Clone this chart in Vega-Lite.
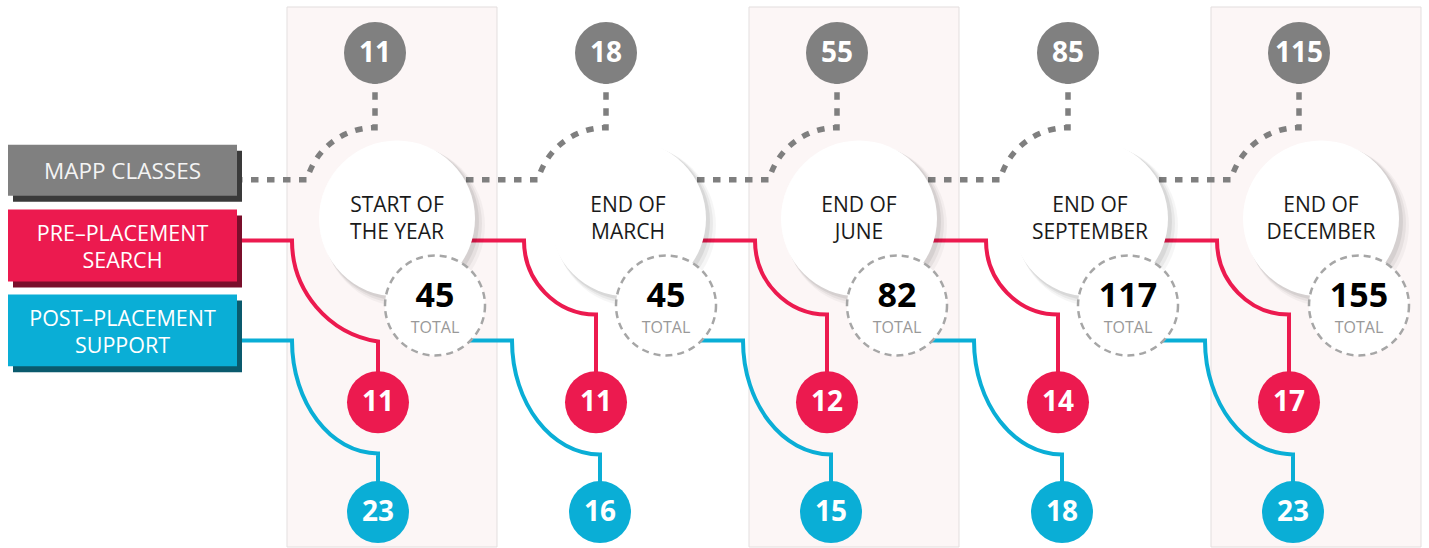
{
  "$schema": "https://vega.github.io/schema/vega-lite/v6.json",
  "width": 1429,
  "height": 548,
  "autosize": {"type": "fit", "contains": "padding"},
  "padding": 0,
  "background": "white",
  "config": {"view": {"stroke": null}, "font": "Open Sans", "text": {"font": "Open Sans"}},
  "datasets": {
    "periods": [
      {"quarter": 0, "period": "START OF\nTHE YEAR", "mapp": 11, "pre": 11, "post": 23, "total": 45},
      {"quarter": 1, "period": "END OF\nMARCH", "mapp": 18, "pre": 11, "post": 16, "total": 45},
      {"quarter": 2, "period": "END OF\nJUNE", "mapp": 55, "pre": 12, "post": 15, "total": 82},
      {"quarter": 3, "period": "END OF\nSEPTEMBER", "mapp": 85, "pre": 14, "post": 18, "total": 117},
      {"quarter": 4, "period": "END OF\nDECEMBER", "mapp": 115, "pre": 17, "post": 23, "total": 155}
    ],
    "series": [
      {"key": "mapp", "series": "MAPP CLASSES"},
      {"key": "pre", "series": "PRE–PLACEMENT\nSEARCH"},
      {"key": "post", "series": "POST–PLACEMENT\nSUPPORT"}
    ]
  },
  "layer": [
    {
      "data": {"name": "periods"},
      "encoding": {
        "x": {"field": "quarter", "type": "quantitative", "scale": {"domain": [-1.623377, 4.562771], "nice": false, "zero": false}, "axis": null}
      },
      "layer": [
        {
          "transform": [{"filter": "datum.quarter % 2 == 0"}],
          "mark": {"type": "rect", "xOffset": -88, "x2Offset": 122, "fill": "#fcf6f6", "stroke": "#e3dfdf", "strokeWidth": 1},
          "encoding": {
            "x2": {"field": "quarter"},
            "y": {"datum": 7, "type": "quantitative", "scale": {"domain": [0, 548], "reverse": true, "nice": false, "zero": false}, "axis": null},
            "y2": {"datum": 548}
          }
        },
        {
          "mark": {"type": "point", "shape": "M -140 0 L -68 0 A 70 70 0 0 1 0 -52 L 0 -127", "size": 4, "filled": false, "stroke": "#7f7f7f", "strokeWidth": 5.5, "strokeDash": [7.5, 8.5], "opacity": 1},
          "encoding": {"y": {"datum": 180, "type": "quantitative", "scale": {"domain": [0, 548], "reverse": true, "nice": false, "zero": false}, "axis": null}}
        },
        {
          "transform": [{"filter": "datum.quarter == 0"}],
          "mark": {"type": "point", "shape": "M -150 0 L -86 0 A 102 102 0 0 0 0 101 L 0 162", "size": 4, "filled": false, "stroke": "#ec1a4f", "strokeWidth": 4, "opacity": 1, "xOffset": 3},
          "encoding": {"y": {"datum": 241, "type": "quantitative", "scale": {"domain": [0, 548], "reverse": true, "nice": false, "zero": false}, "axis": null}}
        },
        {
          "transform": [{"filter": "datum.quarter > 0"}],
          "mark": {"type": "point", "shape": "M -140 0 L -72 0 A 72 74 0 0 0 0 74 L 0 162", "size": 4, "filled": false, "stroke": "#ec1a4f", "strokeWidth": 4, "opacity": 1, "xOffset": -10},
          "encoding": {"y": {"datum": 241, "type": "quantitative", "scale": {"domain": [0, 548], "reverse": true, "nice": false, "zero": false}, "axis": null}}
        },
        {
          "transform": [{"filter": "datum.quarter == 0"}],
          "mark": {"type": "point", "shape": "M -150 0 L -86 0 A 86 113 0 0 0 0 113 L 0 172", "size": 4, "filled": false, "stroke": "#0aaed6", "strokeWidth": 4, "opacity": 1, "xOffset": 3},
          "encoding": {"y": {"datum": 341, "type": "quantitative", "scale": {"domain": [0, 548], "reverse": true, "nice": false, "zero": false}, "axis": null}}
        },
        {
          "transform": [{"filter": "datum.quarter > 0"}],
          "mark": {"type": "point", "shape": "M -150 0 L -88 0 A 88 114 0 0 0 0 114 L 0 172", "size": 4, "filled": false, "stroke": "#0aaed6", "strokeWidth": 4, "opacity": 1, "xOffset": -6},
          "encoding": {"y": {"datum": 341, "type": "quantitative", "scale": {"domain": [0, 548], "reverse": true, "nice": false, "zero": false}, "axis": null}}
        },
        {
          "mark": {"type": "circle", "size": 26244, "fill": "#000000", "opacity": 0.035, "xOffset": 29},
          "encoding": {"y": {"datum": 226, "type": "quantitative", "scale": {"domain": [0, 548], "reverse": true, "nice": false, "zero": false}, "axis": null}}
        },
        {
          "mark": {"type": "circle", "size": 25600, "fill": "#000000", "opacity": 0.05, "xOffset": 27},
          "encoding": {"y": {"datum": 224, "type": "quantitative", "scale": {"domain": [0, 548], "reverse": true, "nice": false, "zero": false}, "axis": null}}
        },
        {
          "mark": {"type": "circle", "size": 24964, "fill": "#000000", "opacity": 0.07, "xOffset": 25},
          "encoding": {"y": {"datum": 222, "type": "quantitative", "scale": {"domain": [0, 548], "reverse": true, "nice": false, "zero": false}, "axis": null}}
        },
        {
          "mark": {"type": "circle", "size": 24336, "fill": "#ffffff", "opacity": 1, "xOffset": 22},
          "encoding": {"y": {"datum": 219, "type": "quantitative", "scale": {"domain": [0, 548], "reverse": true, "nice": false, "zero": false}, "axis": null}}
        },
        {
          "mark": {"type": "text", "lineBreak": "\n", "fontSize": 21, "lineHeight": 27.5, "dx": 22, "align": "center", "baseline": "middle", "fill": "#1a1a1a"},
          "encoding": {
            "y": {"datum": 206, "type": "quantitative", "scale": {"domain": [0, 548], "reverse": true, "nice": false, "zero": false}, "axis": null},
            "text": {"field": "period"}
          }
        },
        {
          "mark": {"type": "circle", "size": 10000, "fill": "#ffffff", "stroke": "#a6a6a6", "strokeWidth": 2.5, "strokeDash": [7, 5], "opacity": 1, "xOffset": 60},
          "encoding": {"y": {"datum": 306, "type": "quantitative", "scale": {"domain": [0, 548], "reverse": true, "nice": false, "zero": false}, "axis": null}}
        },
        {
          "mark": {"type": "text", "fontSize": 34, "fontWeight": "bold", "dx": 60, "align": "center", "baseline": "middle", "fill": "#000000"},
          "encoding": {
            "y": {"datum": 298, "type": "quantitative", "scale": {"domain": [0, 548], "reverse": true, "nice": false, "zero": false}, "axis": null},
            "text": {"field": "total"}
          }
        },
        {
          "mark": {"type": "text", "fontSize": 16, "dx": 60, "align": "center", "baseline": "middle", "fill": "#999999"},
          "encoding": {
            "y": {"datum": 329, "type": "quantitative", "scale": {"domain": [0, 548], "reverse": true, "nice": false, "zero": false}, "axis": null},
            "text": {"value": "TOTAL"}
          }
        },
        {
          "mark": {"type": "circle", "size": 3844, "fill": "#808080", "opacity": 1},
          "encoding": {"y": {"datum": 53, "type": "quantitative", "scale": {"domain": [0, 548], "reverse": true, "nice": false, "zero": false}, "axis": null}}
        },
        {
          "mark": {"type": "text", "fontSize": 28, "fontWeight": "bold", "align": "center", "baseline": "middle", "fill": "#ffffff"},
          "encoding": {
            "y": {"datum": 54, "type": "quantitative", "scale": {"domain": [0, 548], "reverse": true, "nice": false, "zero": false}, "axis": null},
            "text": {"field": "mapp"}
          }
        },
        {
          "transform": [{"filter": "datum.quarter == 0"}],
          "mark": {"type": "circle", "size": 3844, "fill": "#ec1a4f", "opacity": 1, "xOffset": 3},
          "encoding": {"y": {"datum": 403, "type": "quantitative", "scale": {"domain": [0, 548], "reverse": true, "nice": false, "zero": false}, "axis": null}}
        },
        {
          "transform": [{"filter": "datum.quarter > 0"}],
          "mark": {"type": "circle", "size": 3844, "fill": "#ec1a4f", "opacity": 1, "xOffset": -10},
          "encoding": {"y": {"datum": 403, "type": "quantitative", "scale": {"domain": [0, 548], "reverse": true, "nice": false, "zero": false}, "axis": null}}
        },
        {
          "transform": [{"filter": "datum.quarter == 0"}],
          "mark": {"type": "text", "fontSize": 28, "fontWeight": "bold", "align": "center", "baseline": "middle", "fill": "#ffffff", "dx": 3},
          "encoding": {
            "y": {"datum": 404, "type": "quantitative", "scale": {"domain": [0, 548], "reverse": true, "nice": false, "zero": false}, "axis": null},
            "text": {"field": "pre"}
          }
        },
        {
          "transform": [{"filter": "datum.quarter > 0"}],
          "mark": {"type": "text", "fontSize": 28, "fontWeight": "bold", "align": "center", "baseline": "middle", "fill": "#ffffff", "dx": -10},
          "encoding": {
            "y": {"datum": 404, "type": "quantitative", "scale": {"domain": [0, 548], "reverse": true, "nice": false, "zero": false}, "axis": null},
            "text": {"field": "pre"}
          }
        },
        {
          "transform": [{"filter": "datum.quarter == 0"}],
          "mark": {"type": "circle", "size": 3844, "fill": "#0aaed6", "opacity": 1, "xOffset": 3},
          "encoding": {"y": {"datum": 513, "type": "quantitative", "scale": {"domain": [0, 548], "reverse": true, "nice": false, "zero": false}, "axis": null}}
        },
        {
          "transform": [{"filter": "datum.quarter > 0"}],
          "mark": {"type": "circle", "size": 3844, "fill": "#0aaed6", "opacity": 1, "xOffset": -6},
          "encoding": {"y": {"datum": 513, "type": "quantitative", "scale": {"domain": [0, 548], "reverse": true, "nice": false, "zero": false}, "axis": null}}
        },
        {
          "transform": [{"filter": "datum.quarter == 0"}],
          "mark": {"type": "text", "fontSize": 28, "fontWeight": "bold", "align": "center", "baseline": "middle", "fill": "#ffffff", "dx": 3},
          "encoding": {
            "y": {"datum": 514, "type": "quantitative", "scale": {"domain": [0, 548], "reverse": true, "nice": false, "zero": false}, "axis": null},
            "text": {"field": "post"}
          }
        },
        {
          "transform": [{"filter": "datum.quarter > 0"}],
          "mark": {"type": "text", "fontSize": 28, "fontWeight": "bold", "align": "center", "baseline": "middle", "fill": "#ffffff", "dx": -6},
          "encoding": {
            "y": {"datum": 514, "type": "quantitative", "scale": {"domain": [0, 548], "reverse": true, "nice": false, "zero": false}, "axis": null},
            "text": {"field": "post"}
          }
        }
      ]
    },
    {
      "data": {"name": "series"},
      "transform": [{"filter": "datum.key == 'mapp'"}],
      "mark": {"type": "rect", "xOffset": 5, "x2Offset": 5, "yOffset": 6, "y2Offset": 6, "fill": "#3a3a3a"},
      "encoding": {
        "x": {"datum": -1.58874, "type": "quantitative", "scale": {"domain": [-1.623377, 4.562771], "nice": false, "zero": false}, "axis": null},
        "x2": {"datum": -0.5974},
        "y": {"datum": 145, "type": "quantitative", "scale": {"domain": [0, 548], "reverse": true, "nice": false, "zero": false}, "axis": null},
        "y2": {"datum": 196}
      }
    },
    {
      "data": {"name": "series"},
      "transform": [{"filter": "datum.key == 'pre'"}],
      "mark": {"type": "rect", "xOffset": 5, "x2Offset": 5, "yOffset": 6, "y2Offset": 6, "fill": "#7a0e2b"},
      "encoding": {
        "x": {"datum": -1.58874, "type": "quantitative", "scale": {"domain": [-1.623377, 4.562771], "nice": false, "zero": false}, "axis": null},
        "x2": {"datum": -0.5974},
        "y": {"datum": 210, "type": "quantitative", "scale": {"domain": [0, 548], "reverse": true, "nice": false, "zero": false}, "axis": null},
        "y2": {"datum": 282}
      }
    },
    {
      "data": {"name": "series"},
      "transform": [{"filter": "datum.key == 'post'"}],
      "mark": {"type": "rect", "xOffset": 5, "x2Offset": 5, "yOffset": 6, "y2Offset": 6, "fill": "#0a5a6d"},
      "encoding": {
        "x": {"datum": -1.58874, "type": "quantitative", "scale": {"domain": [-1.623377, 4.562771], "nice": false, "zero": false}, "axis": null},
        "x2": {"datum": -0.5974},
        "y": {"datum": 295, "type": "quantitative", "scale": {"domain": [0, 548], "reverse": true, "nice": false, "zero": false}, "axis": null},
        "y2": {"datum": 367}
      }
    },
    {
      "data": {"name": "series"},
      "transform": [{"filter": "datum.key == 'mapp'"}],
      "mark": {"type": "rect", "fill": "#808080"},
      "encoding": {
        "x": {"datum": -1.58874, "type": "quantitative", "scale": {"domain": [-1.623377, 4.562771], "nice": false, "zero": false}, "axis": null},
        "x2": {"datum": -0.5974},
        "y": {"datum": 145, "type": "quantitative", "scale": {"domain": [0, 548], "reverse": true, "nice": false, "zero": false}, "axis": null},
        "y2": {"datum": 196}
      }
    },
    {
      "data": {"name": "series"},
      "transform": [{"filter": "datum.key == 'pre'"}],
      "mark": {"type": "rect", "fill": "#ec1a4f"},
      "encoding": {
        "x": {"datum": -1.58874, "type": "quantitative", "scale": {"domain": [-1.623377, 4.562771], "nice": false, "zero": false}, "axis": null},
        "x2": {"datum": -0.5974},
        "y": {"datum": 210, "type": "quantitative", "scale": {"domain": [0, 548], "reverse": true, "nice": false, "zero": false}, "axis": null},
        "y2": {"datum": 282}
      }
    },
    {
      "data": {"name": "series"},
      "transform": [{"filter": "datum.key == 'post'"}],
      "mark": {"type": "rect", "fill": "#0aaed6"},
      "encoding": {
        "x": {"datum": -1.58874, "type": "quantitative", "scale": {"domain": [-1.623377, 4.562771], "nice": false, "zero": false}, "axis": null},
        "x2": {"datum": -0.5974},
        "y": {"datum": 295, "type": "quantitative", "scale": {"domain": [0, 548], "reverse": true, "nice": false, "zero": false}, "axis": null},
        "y2": {"datum": 367}
      }
    },
    {
      "data": {"name": "series"},
      "transform": [{"filter": "datum.key == 'mapp'"}],
      "mark": {"type": "text", "fontSize": 22.5, "align": "center", "baseline": "middle", "fill": "#f4f4f4"},
      "encoding": {
        "x": {"datum": -1.09307, "type": "quantitative", "scale": {"domain": [-1.623377, 4.562771], "nice": false, "zero": false}, "axis": null},
        "y": {"datum": 172, "type": "quantitative", "scale": {"domain": [0, 548], "reverse": true, "nice": false, "zero": false}, "axis": null},
        "text": {"field": "series"}
      }
    },
    {
      "data": {"name": "series"},
      "transform": [{"filter": "datum.key == 'pre'"}],
      "mark": {"type": "text", "fontSize": 21.5, "lineBreak": "\n", "lineHeight": 27, "align": "center", "baseline": "middle", "fill": "#ffffff"},
      "encoding": {
        "x": {"datum": -1.09307, "type": "quantitative", "scale": {"domain": [-1.623377, 4.562771], "nice": false, "zero": false}, "axis": null},
        "y": {"datum": 235, "type": "quantitative", "scale": {"domain": [0, 548], "reverse": true, "nice": false, "zero": false}, "axis": null},
        "text": {"field": "series"}
      }
    },
    {
      "data": {"name": "series"},
      "transform": [{"filter": "datum.key == 'post'"}],
      "mark": {"type": "text", "fontSize": 21.5, "lineBreak": "\n", "lineHeight": 27, "align": "center", "baseline": "middle", "fill": "#ffffff"},
      "encoding": {
        "x": {"datum": -1.09307, "type": "quantitative", "scale": {"domain": [-1.623377, 4.562771], "nice": false, "zero": false}, "axis": null},
        "y": {"datum": 321, "type": "quantitative", "scale": {"domain": [0, 548], "reverse": true, "nice": false, "zero": false}, "axis": null},
        "text": {"field": "series"}
      }
    }
  ]
}
